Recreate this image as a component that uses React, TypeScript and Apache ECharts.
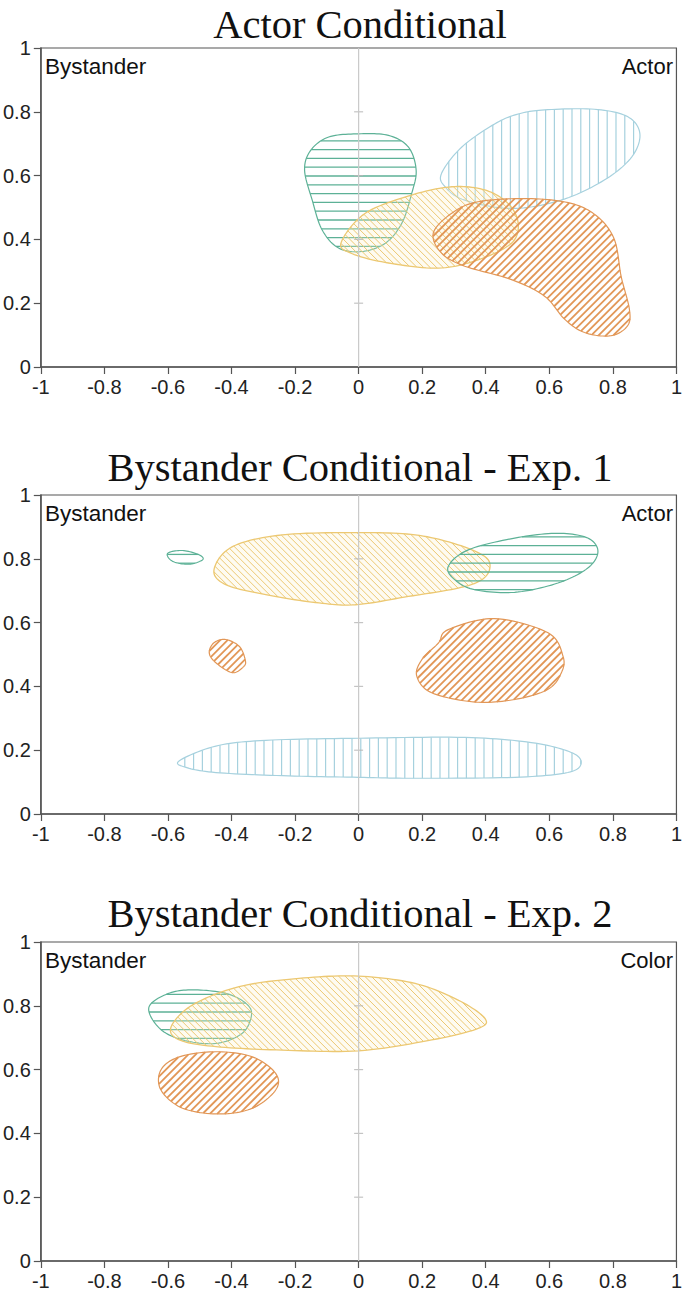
import React, { useEffect, useRef } from "react";
import * as echarts from "echarts";

const W = 685;
const H = 1294;

const titles = ["Actor Conditional", "Bystander Conditional - Exp. 1", "Bystander Conditional - Exp. 2"];
const leftLabels = ["Bystander", "Bystander", "Bystander"];
const rightLabels = ["Actor", "Actor", "Color"];
const centerLine = [[0, 0], [0, 1]];
const centerTicks = [[0, 0.2], [0, 0.4], [0, 0.6], [0, 0.8]];

// Blob outlines (data coordinates), one array per region
const p1Blue = [[0.261, 0.607], [0.324, 0.689], [0.428, 0.762], [0.502, 0.793], [0.585, 0.806], [0.742, 0.808], [0.846, 0.785], [0.885, 0.731], [0.859, 0.658], [0.773, 0.586], [0.637, 0.523], [0.481, 0.497], [0.334, 0.523], [0.272, 0.565]];
const p1Green = [[0, 0.731], [0.094, 0.726], [0.157, 0.689], [0.181, 0.617], [0.167, 0.544], [0.136, 0.451], [0.084, 0.388], [0.01, 0.362], [-0.063, 0.373], [-0.115, 0.43], [-0.146, 0.523], [-0.17, 0.617], [-0.151, 0.679], [-0.094, 0.721]];
const p1Yellow = [[-0.055, 0.39], [0.021, 0.482], [0.167, 0.539], [0.293, 0.565], [0.397, 0.555], [0.47, 0.513], [0.502, 0.451], [0.481, 0.388], [0.376, 0.336], [0.251, 0.31], [0.094, 0.326], [-0.02, 0.355]];
const p1Orange = [[0.235, 0.42], [0.293, 0.482], [0.376, 0.518], [0.533, 0.528], [0.669, 0.513], [0.752, 0.471], [0.805, 0.399], [0.826, 0.284], [0.852, 0.181], [0.846, 0.129], [0.794, 0.098], [0.711, 0.108], [0.648, 0.15], [0.585, 0.222], [0.481, 0.274], [0.334, 0.316], [0.261, 0.357]];

const p2GreenSmall = [[-0.601, 0.817], [-0.554, 0.826], [-0.502, 0.8125], [-0.491, 0.797], [-0.533, 0.783], [-0.585, 0.792]];
const p2Yellow = [[-0.455, 0.766], [-0.397, 0.838], [-0.24, 0.875], [0, 0.882], [0.178, 0.875], [0.313, 0.844], [0.397, 0.807], [0.413, 0.771], [0.387, 0.734], [0.313, 0.708], [0.157, 0.682], [-0.01, 0.656], [-0.136, 0.663], [-0.292, 0.6875], [-0.418, 0.719]];
const p2Green = [[0.282, 0.776], [0.345, 0.828], [0.491, 0.865], [0.627, 0.88], [0.721, 0.865], [0.753, 0.823], [0.721, 0.771], [0.627, 0.724], [0.491, 0.695], [0.366, 0.703], [0.303, 0.734]];
const p2OrangeSmall = [[-0.418, 0.547], [-0.375, 0.525], [-0.357, 0.484], [-0.361, 0.463], [-0.397, 0.443], [-0.449, 0.474], [-0.47, 0.505], [-0.455, 0.537]];
const p2Orange = [[0.428, 0.6125], [0.596, 0.568], [0.643, 0.495], [0.638, 0.443], [0.596, 0.391], [0.491, 0.359], [0.366, 0.351], [0.23, 0.38], [0.183, 0.432], [0.199, 0.484], [0.251, 0.536], [0.282, 0.578]];
const p2Blue = [[-0.564, 0.167], [-0.449, 0.213], [-0.292, 0.231], [0, 0.2375], [0.334, 0.24], [0.543, 0.224], [0.669, 0.193], [0.7, 0.159], [0.658, 0.13], [0.491, 0.115], [0.178, 0.112], [0, 0.115], [-0.24, 0.12], [-0.449, 0.13], [-0.543, 0.146]];

const p3Green = [[-0.66, 0.795], [-0.6, 0.838], [-0.522, 0.85], [-0.418, 0.839], [-0.355, 0.808], [-0.337, 0.771], [-0.366, 0.714], [-0.449, 0.682], [-0.554, 0.693], [-0.627, 0.73]];
const p3Yellow = [[-0.59, 0.734], [-0.522, 0.803], [-0.376, 0.86], [-0.188, 0.886], [0, 0.893], [0.178, 0.87], [0.313, 0.818], [0.397, 0.761], [0.376, 0.729], [0.23, 0.693], [0, 0.659], [-0.24, 0.661], [-0.449, 0.672], [-0.564, 0.693]];
const p3Orange = [[-0.449, 0.656], [-0.334, 0.64], [-0.261, 0.588], [-0.261, 0.536], [-0.334, 0.479], [-0.439, 0.461], [-0.554, 0.479], [-0.622, 0.536], [-0.622, 0.599], [-0.564, 0.64]];

const blobs = [
  { panel: 0, kind: "blue", points: p1Blue },
  { panel: 0, kind: "green", points: p1Green },
  { panel: 0, kind: "yellow", points: p1Yellow },
  { panel: 0, kind: "orange", points: p1Orange },
  { panel: 1, kind: "green", points: p2GreenSmall },
  { panel: 1, kind: "yellow", points: p2Yellow },
  { panel: 1, kind: "green", points: p2Green },
  { panel: 1, kind: "orange", points: p2OrangeSmall },
  { panel: 1, kind: "orange", points: p2Orange },
  { panel: 1, kind: "blue", points: p2Blue },
  { panel: 2, kind: "green", points: p3Green },
  { panel: 2, kind: "yellow", points: p3Yellow },
  { panel: 2, kind: "orange", points: p3Orange },
];

const STYLES: Record<string, any> = {
  green: { color: "#5cb196", angle: 0, spacing: 8.8, lineWidth: 1.3, outline: 1.2, fill: "rgba(255,255,255,0)" },
  blue: { color: "#a6d1de", angle: 90, spacing: 8.8, lineWidth: 1.2, outline: 1.2, fill: "rgba(255,255,255,0)" },
  yellow: { color: "#ecc872", angle: 45, spacing: 4.6, lineWidth: 1, outline: 1.3, fill: "rgba(252,240,200,0.25)" },
  orange: { color: "#e29757", angle: -45, spacing: 5.2, lineWidth: 1.8, outline: 1.2, fill: "rgba(255,255,255,0)" },
};

const GRID_TOPS = [48, 495, 942];
const TITLE_Y = [24, 467, 913];
const GRID_LEFT = 40;
const GRID_W = 640;
const GRID_H = 319;
const SANS = "'Liberation Sans', Arial, Helvetica, sans-serif";
const SERIF = "'Liberation Serif', 'Times New Roman', serif";

function catmull(pts: number[][], steps: number) {
  const out: number[][] = [];
  const n = pts.length;
  for (let i = 0; i < n; i++) {
    const p0 = pts[(i - 1 + n) % n], p1 = pts[i], p2 = pts[(i + 1) % n], p3 = pts[(i + 2) % n];
    for (let s = 0; s < steps; s++) {
      const t = s / steps, t2 = t * t, t3 = t2 * t;
      const f = (a: number, b: number, c: number, d: number) =>
        0.5 * (2 * b + (-a + c) * t + (2 * a - 5 * b + 4 * c - d) * t2 + (-a + 3 * b - 3 * c + d) * t3);
      out.push([f(p0[0], p1[0], p2[0], p3[0]), f(p0[1], p1[1], p2[1], p3[1])]);
    }
  }
  return out;
}

function hatch(poly: number[][], angleDeg: number, spacing: number) {
  const a = (angleDeg * Math.PI) / 180;
  const d = [Math.cos(a), Math.sin(a)];
  const nrm = [-Math.sin(a), Math.cos(a)];
  const ts = poly.map((p) => p[0] * nrm[0] + p[1] * nrm[1]);
  const tmin = Math.min(...ts), tmax = Math.max(...ts);
  const segs: number[][] = [];
  for (let k = Math.ceil(tmin / spacing); k * spacing <= tmax; k++) {
    const c = k * spacing + 0.01;
    const us: number[] = [];
    for (let i = 0; i < poly.length; i++) {
      const j = (i + 1) % poly.length;
      const ta = ts[i], tb = ts[j];
      if ((ta <= c && tb > c) || (tb <= c && ta > c)) {
        const f = (c - ta) / (tb - ta);
        const x = poly[i][0] + f * (poly[j][0] - poly[i][0]);
        const y = poly[i][1] + f * (poly[j][1] - poly[i][1]);
        us.push(x * d[0] + y * d[1]);
      }
    }
    us.sort((p, q) => p - q);
    for (let m = 0; m + 1 < us.length; m += 2) {
      const u1 = us[m], u2 = us[m + 1];
      segs.push([c * nrm[0] + u1 * d[0], c * nrm[1] + u1 * d[1], c * nrm[0] + u2 * d[0], c * nrm[1] + u2 * d[1]]);
    }
  }
  return segs;
}

function makeRender(points: number[][], st: any) {
  return (params: any, api: any) => {
    const px = points.map((p) => api.coord(p));
    const dense = catmull(px, 12);
    const segs = hatch(dense, st.angle, st.spacing);
    const children: any[] = [];
    children.push({ type: "polygon", shape: { points: dense }, style: { fill: st.fill, stroke: null } });
    segs.forEach((s) =>
      children.push({
        type: "line",
        shape: { x1: s[0], y1: s[1], x2: s[2], y2: s[3] },
        style: { stroke: st.color, lineWidth: st.lineWidth },
      })
    );
    children.push({ type: "polygon", shape: { points: dense }, style: { fill: null, stroke: st.color, lineWidth: st.outline } });
    return { type: "group", children };
  };
}

export default function App() {
  const ref = useRef<HTMLDivElement>(null);
  useEffect(() => {
    if (!ref.current) return;
    const chart = echarts.init(ref.current, null, { renderer: "svg" });
    const grids = GRID_TOPS.map((top) => ({
      left: GRID_LEFT,
      top,
      width: GRID_W,
      height: GRID_H,
      show: true,
      borderColor: "#555",
      borderWidth: 1.2,
      backgroundColor: "transparent",
    }));
    const axisCommon = {
      type: "value",
      interval: 0.2,
      axisLine: { show: true, onZero: false, lineStyle: { color: "#555", width: 1.5 } },
      axisTick: { show: true, length: 7, lineStyle: { color: "#555", width: 1.2 } },
      axisLabel: { fontSize: 20, color: "#222", fontFamily: SANS, margin: 10 },
      splitLine: { show: false },
    };
    const xAxes = GRID_TOPS.map((_, i) => ({ ...axisCommon, gridIndex: i, min: -1, max: 1 }));
    const yAxes = GRID_TOPS.map((_, i) => ({ ...axisCommon, gridIndex: i, min: 0, max: 1 }));

    const series: any[] = [];
    GRID_TOPS.forEach((_, i) => {
      series.push({
        type: "line",
        xAxisIndex: i,
        yAxisIndex: i,
        data: centerLine,
        symbol: "none",
        silent: true,
        lineStyle: { color: "#c9c9c9", width: 1.2 },
      });
      series.push({
        type: "scatter",
        xAxisIndex: i,
        yAxisIndex: i,
        data: centerTicks,
        symbol: "rect",
        symbolSize: [9, 1.2],
        silent: true,
        itemStyle: { color: "#b5b5b5" },
      });
    });
    blobs.forEach((b) => {
      series.push({
        type: "custom",
        xAxisIndex: b.panel,
        yAxisIndex: b.panel,
        data: [[0, 0]],
        silent: true,
        renderItem: makeRender(b.points, STYLES[b.kind]),
      });
    });

    const graphics: any[] = [];
    GRID_TOPS.forEach((top, i) => {
      graphics.push({
        type: "text",
        x: GRID_LEFT + GRID_W / 2,
        y: TITLE_Y[i],
        style: {
          text: titles[i],
          fontSize: 40.5,
          fill: "#111",
          fontFamily: SERIF,
          textAlign: "center",
          textVerticalAlign: "middle",
        },
      });
      graphics.push({
        type: "text",
        left: 45,
        top: top + 7,
        style: { text: leftLabels[i], fontSize: 22.5, fill: "#111", fontFamily: SANS },
      });
      graphics.push({
        type: "text",
        right: 12,
        top: top + 7,
        style: { text: rightLabels[i], fontSize: 22, fill: "#111", fontFamily: SANS },
      });
    });

    chart.setOption({
      animation: false,
      backgroundColor: "#fff",
      grid: grids,
      xAxis: xAxes,
      yAxis: yAxes,
      series,
      graphic: graphics,
    });
    return () => chart.dispose();
  }, []);
  return <div ref={ref} style={{ position: "absolute", left: 0, top: 0, width: W, height: H }} />;
}
